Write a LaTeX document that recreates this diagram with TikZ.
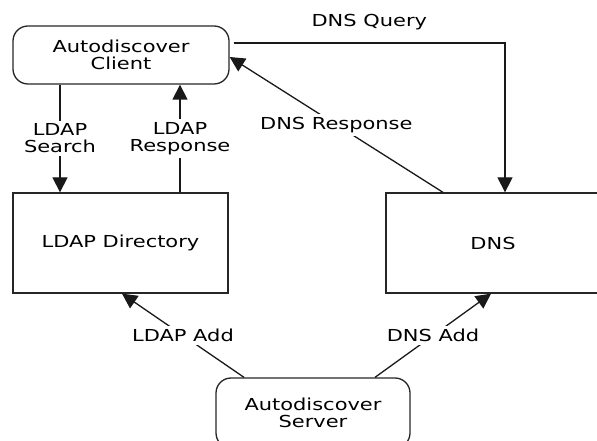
\documentclass[tikz,border=0pt]{standalone}
\usepackage{fontspec}
\setmainfont{DejaVu Sans}[FakeStretch=1.27]
\usepackage{tikz}
\usetikzlibrary{arrows.meta}
\tikzset{
    box/.style={draw=black!85, line width=1.3bp, rectangle, align=center, inner sep=0pt},
    roundbox/.style={box, rounded corners=15bp},
    flow/.style={line width=1.3bp, draw=black!90, -{Triangle[length=15bp,width=15bp]}},
    flowlabel/.style={fill=white, align=center, inner sep=3bp}
}

\begin{document}
\begin{tikzpicture}[x=1bp, y=-1bp, font=\fontsize{16.5bp}{17bp}\selectfont]

                \useasboundingbox (0,0) rectangle (597,441);

                \node[roundbox, minimum width=216bp, minimum height=58bp] (client) at (121,55) {Autodiscover\\Client};
                \node[box, minimum width=215bp, minimum height=100bp] (ldap) at (120.5,243) {LDAP Directory};
                \node[box, minimum width=214bp, minimum height=100bp] (dns) at (493,243) {DNS};
                \node[roundbox, minimum width=194bp, minimum height=70bp] (server) at (313,413) {Autodiscover\\Server};

                \draw[flow] ([xshift=-61bp]client.south) -- ([xshift=-60.5bp]ldap.north) node[midway, flowlabel] {LDAP\\Search};
                \draw[flow] ([xshift=59.5bp]ldap.north) -- ([xshift=59bp]client.south) node[midway, flowlabel] {LDAP\\Response};
                \draw[flow] ([yshift=12bp,xshift=4bp]client.east) -| ([xshift=12bp]dns.north) node[pos=0.25, above=9bp] {DNS Query};
                \draw[flow] ([xshift=-50bp]dns.north) -- ([yshift=-2bp]client.east) node[midway, flowlabel] {DNS Response};
                \draw[flow] ([xshift=-69bp]server.north) -- ([xshift=1.5bp]ldap.south) node[midway, flowlabel] {LDAP Add};
                \draw[flow] ([xshift=62bp]server.north) -- ([xshift=-2bp]dns.south) node[midway, flowlabel] {DNS Add};

            \end{tikzpicture}
\end{document}
